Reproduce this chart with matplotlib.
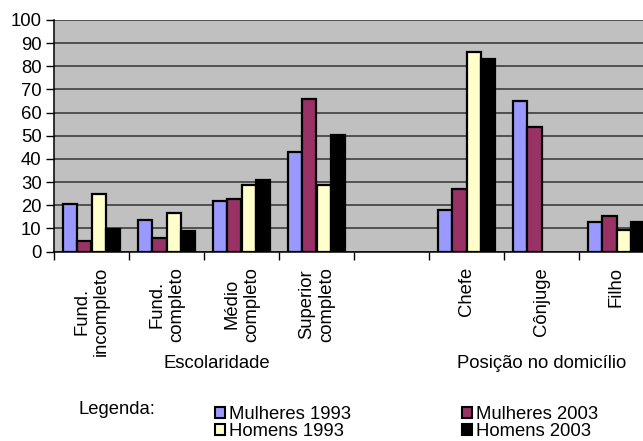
import numpy as np
import matplotlib
matplotlib.use("Agg")
import matplotlib.pyplot as plt
from matplotlib.patches import Patch

plt.rcParams["font.family"] = "Liberation Sans"
plt.rcParams["font.size"] = 13.3

categories = ["Fund.\nincompleto", "Fund.\ncompleto", "Médio\ncompleto",
              "Superior\ncompleto", "", "Chefe", "Cônjuge", "Filho"]
series = ["Mulheres 1993", "Mulheres 2003", "Homens 1993", "Homens 2003"]
mulheres_1993 = [20.5, 13.5, 22, 43, np.nan, 18, 65, 12.7]
mulheres_2003 = [4.6, 6, 22.5, 66, np.nan, 27, 53.6, 15.5]
homens_1993 = [25, 16.7, 28.8, 28.8, np.nan, 86.3, np.nan, 9.5]
homens_2003 = [9.8, 9, 31, 50.4, np.nan, 83, np.nan, 12.6]
colors = ["#9999FF", "#993366", "#FFFFCC", "#000000"]
group_labels = ["Escolaridade", "Posição no domicílio"]

W, H = 643, 441
fig = plt.figure(figsize=(W / 100, H / 100), dpi=100)
# plot area runs a bit past the right edge, like the original
ax = fig.add_axes([54 / W, 1 - 251.5 / H, 600 / W, 231.5 / H])
ax.set_facecolor("#C0C0C0")

x = np.arange(len(categories)) + 0.5
bw = 0.187
values = [mulheres_1993, mulheres_2003, homens_1993, homens_2003]
for i, (vals, c) in enumerate(zip(values, colors)):
    ax.bar(x + (i - 1.5) * bw, vals, bw, color=c, edgecolor="black",
           linewidth=1.6, zorder=3)

ax.set_xlim(0, len(categories))
ax.set_ylim(0, 100)
ax.set_yticks(np.arange(0, 101, 10))
ax.yaxis.grid(True, color="#333333", linewidth=1.1, zorder=1)
ax.set_axisbelow(True)

ax.set_xticks(x)
ax.set_xticklabels(categories, rotation=90, multialignment="center")
ax.set_xticks(np.arange(len(categories) + 1), minor=True)
ax.tick_params(axis="x", which="major", length=0, pad=11)
ax.tick_params(axis="x", which="minor", length=6, width=1, color="black")
ax.tick_params(axis="y", length=6, width=1, pad=3)

for s in ["top", "right"]:
    ax.spines[s].set_visible(False)
ax.spines["left"].set_linewidth(1.1)
ax.spines["bottom"].set_linewidth(1.1)

fig.text(217 / W, 1 - 363 / H, group_labels[0], ha="center", va="center")
fig.text(542 / W, 1 - 363 / H, group_labels[1], ha="center", va="center")
fig.text(78 / W, 1 - 410 / H, "Legenda:", ha="left", va="center")

handles = [Patch(facecolor=c, edgecolor="black", linewidth=1.5) for c in colors]
order = [0, 2, 1, 3]
fig.legend([handles[i] for i in order], [series[i] for i in order], ncol=2,
           loc="upper left", bbox_to_anchor=(215 / W, 1 - 406 / H),
           frameon=False, handlelength=0.55, handleheight=0.55,
           handletextpad=0.2, columnspacing=6.0, labelspacing=0.0,
           borderpad=0, borderaxespad=0)

fig.savefig("out.png", dpi=100)
